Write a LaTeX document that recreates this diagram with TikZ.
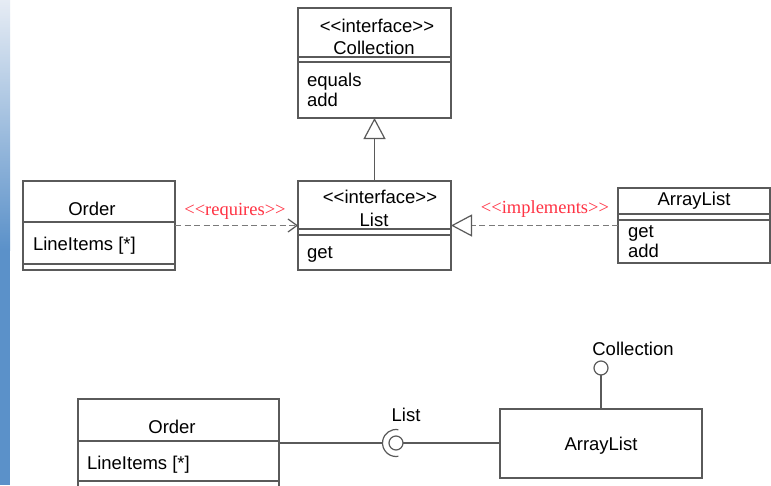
\documentclass[tikz,border=0pt]{standalone}
\usepackage{fontspec}
\setmainfont{Liberation Sans}
\newfontfamily\stereofont{Liberation Serif}
\usetikzlibrary{arrows.meta}
\definecolor{boxgray}{HTML}{5A5A5A}
\definecolor{dashgray}{HTML}{7A7A7A}
\definecolor{labelred}{HTML}{FF3344}
\definecolor{stripblue}{HTML}{5B91C9}
\definecolor{striplight}{HTML}{E6ECF4}
\newcommand\guillemets[1]{<\kern0pt<#1>\kern0pt>}

\tikzstyle{every node}=[inner sep=0pt, outer sep=0pt, font=\fontsize{18.5}{22}\selectfont]
\tikzstyle{classbox}=[draw=boxgray, line width=1.2pt, anchor=north west]
\tikzstyle{classname}=[anchor=base]
\tikzstyle{member}=[anchor=base west]
\tikzstyle{stereo}=[anchor=base, text=labelred, font=\stereofont\fontsize{18.5}{20}\selectfont]
\tikzstyle{ball}=[circle, draw=boxgray, line width=1.2pt, minimum size=14pt, fill=white]
\tikzstyle{dependency}=[dashgray, line width=1.6pt, dash pattern=on 6pt off 3.5pt]

\begin{document}
\begin{tikzpicture}[x=1pt, y=-1pt, line width=1.2pt]
\useasboundingbox (0,0) rectangle (771,485);
\clip (0,0) rectangle (771,485);
\fill[white] (0,0) rectangle (771,485);
% Side strip
    \shade[top color=striplight, bottom color=stripblue] (0,0) rectangle (10,250);
    \fill[stripblue] (0,250) rectangle (10,485);
% Class boxes
    \node[classbox, minimum width=153, minimum height=110] (collection) at (298,8) {};
    \node[classbox, minimum width=153, minimum height=89] (list) at (298,181) {};
    \node[classbox, minimum width=152, minimum height=89] (order) at (23,181) {};
    \node[classbox, minimum width=152, minimum height=75] (arraylist) at (618,188) {};
    \node[classbox, minimum width=201, minimum height=100] (order2) at (78,399) {};
    \node[classbox, minimum width=202, minimum height=69] (arraylist2) at (500,409) {};
% Compartment lines
    \draw[boxgray] (298,57) -- (451,57);
    \draw[boxgray] (298,62) -- (451,62);
    \draw[boxgray] (298,229) -- (451,229);
    \draw[boxgray] (298,235) -- (451,235);
    \draw[boxgray] (23,222) -- (175,222);
    \draw[boxgray] (23,264) -- (175,264);
    \draw[boxgray] (618,214) -- (770,214);
    \draw[boxgray] (618,220) -- (770,220);
    \draw[boxgray] (78,441) -- (279,441);
    \draw[boxgray] (78,481) -- (279,481);
% Names and members
    \node[classname] (collectionstereo) at (377,32) {\guillemets{interface}};
    \node[classname] (collectionname) at (374,54) {Collection};
    \node[member] (collectionequals) at (307,86) {equals};
    \node[member] (collectionadd) at (307,106) {add};
    \node[classname] (liststereo) at (380,203) {\guillemets{interface}};
    \node[classname] (listname) at (374,226) {List};
    \node[member] (listget) at (307,258) {get};
    \node[classname] (ordername) at (92,215) {Order};
    \node[member] (orderitems) at (33,250) {LineItems [*]};
    \node[classname] (arraylistname) at (694,205) {ArrayList};
    \node[member] (arraylistget) at (628,237) {get};
    \node[member] (arraylistadd) at (628,257) {add};
    \node[classname] (order2name) at (172,433) {Order};
    \node[member] (order2items) at (87,469) {LineItems [*]};
    \node[classname] (arraylist2name) at (601,450) {ArrayList};
% Relations
    \draw[boxgray, -{Triangle[open, length=21pt, width=22pt]}] (list.north) -- (collection.south);
    \draw[dependency, -{Straight Barb[length=9pt, width=13pt, line width=1.2pt, color=boxgray]}] (order.east) -- (list.west);
    \draw[dependency, -{Triangle[open, length=21pt, width=22pt, line width=1.2pt, color=boxgray]}] (arraylist.west) -- (list.east);
    \node[stereo] (requireslabel) at (235,215) {\guillemets{requires}};
    \node[stereo] (implementslabel) at (545,213) {\guillemets{implements}};
% Provided and required interfaces
    \node[ball] (listball) at (396,443) {};
    \node[circle, minimum size=27pt] (listsocket) at (396,443) {};
    \draw[boxgray] (listsocket.80) arc[start angle=80, end angle=280, radius=13.5pt];
    \draw[boxgray] (order2.east |- listsocket) -- (listsocket.west);
    \draw[boxgray] (listball.east) -- (arraylist2.west |- listball);
    \node[classname] (listlabel) at (406,421) {List};
    \node[ball] (collectionball) at (601,368) {};
    \draw[boxgray] (arraylist2.north) -- (collectionball.south);
    \node[classname] (collectionlabel) at (633,355) {Collection};
\end{tikzpicture}
\end{document}
